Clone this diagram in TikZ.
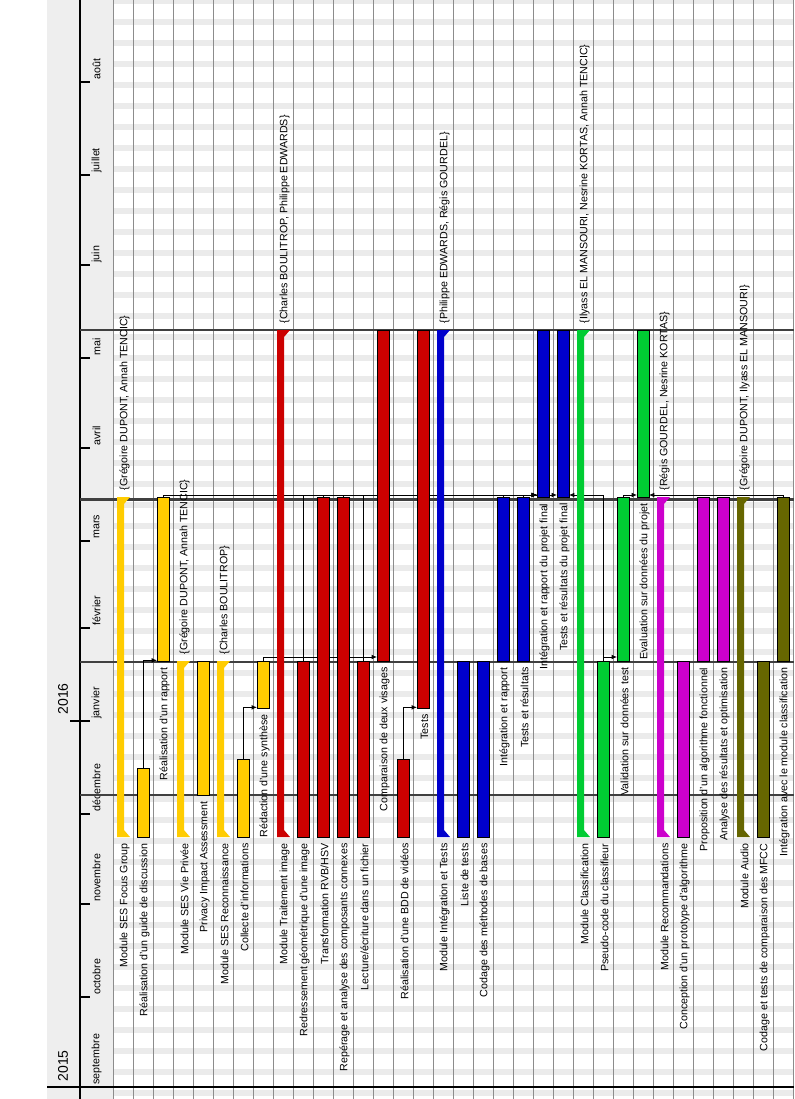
\documentclass[tikz,border=0pt]{standalone}
\usepackage{fontspec}
\setmainfont{Liberation Sans}
\usetikzlibrary{arrows.meta,fit}

\definecolor{sesyellow}{HTML}{FFCC00}
\definecolor{imgred}{HTML}{CC0000}
\definecolor{intblue}{HTML}{0000CC}
\definecolor{clsgreen}{HTML}{00CC33}
\definecolor{recmagenta}{HTML}{CC00CC}
\definecolor{audolive}{HTML}{666600}
\definecolor{panelgray}{HTML}{EEEEEE}
\definecolor{weekgray}{HTML}{EBEBEB}
\definecolor{gridgray}{HTML}{8C8C8C}
\definecolor{milegray}{HTML}{404040}

\pgfdeclarelayer{grid}
\pgfdeclarelayer{links}
\pgfsetlayers{grid,links,main}

\tikzset{
  taskbar/.style={draw=black, line width=0.5pt, fill=#1, rectangle, inner sep=0pt, outer sep=0pt},
  tasklabel/.style={rotate=90, anchor=east, inner sep=1pt, font=\fontsize{8}{9}\selectfont},
  whom/.style={rotate=90, anchor=west, inner sep=1pt, font=\fontsize{8}{9}\selectfont},
  month/.style={rotate=90, anchor=west, inner sep=1pt, font=\fontsize{8}{9}\selectfont},
  year/.style={rotate=90, anchor=west, inner sep=1pt, font=\fontsize{10.5}{12}\selectfont},
  dep/.style={draw=black, line width=0.6pt, -{Latex[length=4pt,width=3.5pt]}},
  milestone/.style={draw=milegray, line width=2.2pt},
}

\begin{document}
\begin{tikzpicture}[x=0.75pt, y=-0.75pt]
    \useasboundingbox (0,0) rectangle (794,1099);

    \begin{pgfonlayer}{grid}
    % Time scale panel
    \fill[panelgray] (47,0) rectangle (113,1099);

    % Weekends (one band per week)
    \foreach \k in {-1,...,51}
        \fill[weekgray] (113,{1069-21*\k}) rectangle (794,{1075-21*\k});

    % One column per task
    \foreach \k in {0,...,34}
        \draw[gridgray, line width=0.6pt] ({113+20*\k},0) -- ({113+20*\k},1099);

    % Axis, months and years
    \draw[black, line width=0.8pt] (80,0) -- (80,1099);
    \draw[black, line width=1pt] (47,1087) -- (794,1087);
    \foreach \y/\m in {1087/septembre, 997/octobre, 904/novembre, 814/décembre,
                       721/janvier, 628/février, 541/mars, 448/avril, 358/mai,
                       265/juin, 175/juillet, 82/août} {
        \draw[black, line width=0.8pt] (80,\y) -- (90,\y);
        \node[month] (m\y) at (96.5,\y-1) {\m};
    }
    \draw[black, line width=1.6pt] (70,1087) -- (90,1087);
    \draw[black, line width=0.8pt] (70,721) -- (90,721);
    \node[year] (y2015) at (63,1083) {2015};
    \node[year] (y2016) at (63,716) {2016};

    % Milestones
    \draw[milestone] (80,795) -- (794,795);
    \draw[milestone] (80,662) -- (794,662);
    \draw[milestone] (80,499.5) -- (794,499.5);
    \draw[milestone] (80,330) -- (794,330);
    \end{pgfonlayer}

    % Summary bars of the modules
    \foreach \cx/\yb/\yt/\c in {123/837/497/sesyellow, 183/837/661/sesyellow,
                               223/837/661/sesyellow, 283/837/330/imgred,
                               443/837/330/intblue, 583/837/330/clsgreen,
                               663/837/497/recmagenta, 743/837/497/audolive}
        \fill[\c] (\cx-6,\yb) -- (\cx+7,\yb) -- (\cx+1,\yb-7) -- (\cx+1,\yt+7)
                  -- (\cx+7,\yt) -- (\cx-6,\yt) -- cycle;

    % Tasks: SES
    \node[taskbar=sesyellow, fit={(137,768) (149,837)}] (t2) {};
    \node[taskbar=sesyellow, fit={(157,497) (169,661)}] (t3) {};
    \node[taskbar=sesyellow, fit={(197,661) (209,795)}] (t5) {};
    \node[taskbar=sesyellow, fit={(237,759) (249,837)}] (t7) {};
    \node[taskbar=sesyellow, fit={(257,661) (269,708)}] (t8) {};

    % Tasks: image
    \node[taskbar=imgred, fit={(297,661) (309,837)}] (t10) {};
    \node[taskbar=imgred, fit={(317,497) (329,837)}] (t11) {};
    \node[taskbar=imgred, fit={(337,497) (349,837)}] (t12) {};
    \node[taskbar=imgred, fit={(357,661) (369,837)}] (t13) {};
    \node[taskbar=imgred, fit={(377,330) (389,661)}] (t14) {};
    \node[taskbar=imgred, fit={(397,759) (409,837)}] (t15) {};
    \node[taskbar=imgred, fit={(417,330) (429,708)}] (t16) {};

    % Tasks: integration
    \node[taskbar=intblue, fit={(457,661) (469,837)}] (t18) {};
    \node[taskbar=intblue, fit={(477,661) (489,837)}] (t19) {};
    \node[taskbar=intblue, fit={(497,497) (509,661)}] (t20) {};
    \node[taskbar=intblue, fit={(517,497) (529,661)}] (t21) {};
    \node[taskbar=intblue, fit={(537,330) (549,497)}] (t22) {};
    \node[taskbar=intblue, fit={(557,330) (569,497)}] (t23) {};

    % Tasks: classification
    \node[taskbar=clsgreen, fit={(597,661) (609,837)}] (t25) {};
    \node[taskbar=clsgreen, fit={(617,497) (629,661)}] (t26) {};
    \node[taskbar=clsgreen, fit={(637,330) (649,497)}] (t27) {};

    % Tasks: recommendations and audio
    \node[taskbar=recmagenta, fit={(677,661) (689,837)}] (t29) {};
    \node[taskbar=recmagenta, fit={(697,497) (709,661)}] (t30) {};
    \node[taskbar=recmagenta, fit={(717,497) (729,661)}] (t31) {};
    \node[taskbar=audolive, fit={(757,661) (769,837)}] (t33) {};
    \node[taskbar=audolive, fit={(777,497) (789,661)}] (t34) {};

    % Dependencies (under the bars)
    \begin{pgfonlayer}{links}
    \draw[dep] (t2.north) |- ([yshift=0.5pt]t3.south west);
    \draw[dep] (t7.north) |- ([yshift=0.5pt]t8.south west);
    \draw[dep] (t8.north) |- ([yshift=3pt]t14.south west);
    \draw[dep] (t15.north) |- ([yshift=0.5pt]t16.south west);
    \draw[dep] (t3.north) |- ([yshift=1.5pt]t22.south west);
    \draw[dep] (t10.north) |- ([yshift=1.5pt]t22.south west);
    \draw[dep] (t11.north) |- ([yshift=1.5pt]t22.south west);
    \draw[dep] (t12.north) |- ([yshift=1.5pt]t22.south west);
    \draw[dep] (t13.north) |- ([yshift=1.5pt]t22.south west);
    \draw[dep] (t20.north) |- ([yshift=1.5pt]t22.south west);
    \draw[dep] (t21.north) |- ([yshift=1.5pt]t23.south west);
    \draw[dep] (t25.north) |- ([yshift=3pt]t26.south west);
    \draw[dep] (t25.north) |- ([yshift=1.5pt]t23.south east);
    \draw[dep] (t26.north) |- ([yshift=1.5pt]t27.south west);
    \draw[dep] (t34.north) |- ([yshift=1.5pt]t27.south east);
    \end{pgfonlayer}

    % Task names
    \node[tasklabel] (l1) at (124.5,842) {Module SES Focus Group};
    \node[tasklabel] (l2) at (144.5,842) {Réalisation d'un guide de discussion};
    \node[tasklabel] (l3) at (164.5,666) {Réalisation d'un rapport};
    \node[tasklabel] (l4) at (184.5,842) {Module SES Vie Privée};
    \node[tasklabel] (l5) at (204.5,800) {Privacy Impact Assessment};
    \node[tasklabel] (l6) at (224.5,842) {Module SES Reconnaissance};
    \node[tasklabel] (l7) at (244.5,842) {Collecte d'informations};
    \node[tasklabel] (l8) at (264.5,713) {Rédaction d'une synthèse};
    \node[tasklabel] (l9) at (284.5,842) {Module Traitement image};
    \node[tasklabel] (l10) at (304.5,842) {Redressement géométrique d'une image};
    \node[tasklabel] (l11) at (324.5,842) {Transformation RVB/HSV};
    \node[tasklabel] (l12) at (344.5,842) {Repérage et analyse des composants connexes};
    \node[tasklabel] (l13) at (364.5,842) {Lecture/écriture dans un fichier};
    \node[tasklabel] (l14) at (384.5,666) {Comparaison de deux visages};
    \node[tasklabel] (l15) at (404.5,842) {Réalisation d'une BDD de vidéos};
    \node[tasklabel] (l16) at (424.5,713) {Tests};
    \node[tasklabel] (l17) at (444.5,842) {Module Intégration et Tests};
    \node[tasklabel] (l18) at (464.5,842) {Liste de tests};
    \node[tasklabel] (l19) at (484.5,842) {Codage des méthodes de bases};
    \node[tasklabel] (l20) at (504.5,666) {Intégration et rapport};
    \node[tasklabel] (l21) at (524.5,666) {Tests et résultats};
    \node[tasklabel] (l22) at (544.5,502) {Intégration et rapport du projet final};
    \node[tasklabel] (l23) at (564.5,502) {Tests et résultats du projet final};
    \node[tasklabel] (l24) at (584.5,842) {Module Classification};
    \node[tasklabel] (l25) at (604.5,842) {Pseudo-code du classifieur};
    \node[tasklabel] (l26) at (624.5,666) {Validation sur données test};
    \node[tasklabel] (l27) at (644.5,502) {Evaluation sur données du projet};
    \node[tasklabel] (l28) at (664.5,842) {Module Recommandations};
    \node[tasklabel] (l29) at (684.5,842) {Conception d'un prototype d'algorithme};
    \node[tasklabel] (l30) at (704.5,666) {Proposition d'un algorithme fonctionnel};
    \node[tasklabel] (l31) at (724.5,666) {Analyse des résultats et optimisation};
    \node[tasklabel] (l32) at (744.5,842) {Module Audio};
    \node[tasklabel] (l33) at (764.5,842) {Codage et tests de comparaison des MFCC};
    \node[tasklabel] (l34) at (784.5,666) {Intégration avec le module classification};

    % Resources of the modules
    \node[whom] (r1) at (124.5,492) {\{Grégoire DUPONT, Annah TENCIC\}};
    \node[whom] (r4) at (184.5,656) {\{Grégoire DUPONT, Annah TENCIC\}};
    \node[whom] (r6) at (224.5,656) {\{Charles BOULITROP\}};
    \node[whom] (r9) at (284.5,325) {\{Charles BOULITROP, Philippe EDWARDS\}};
    \node[whom] (r17) at (444.5,325) {\{Philippe EDWARDS, Régis GOURDEL\}};
    \node[whom] (r24) at (584.5,325) {\{Ilyass EL MANSOURI, Nesrine KORTAS, Annah TENCIC\}};
    \node[whom] (r28) at (664.5,492) {\{Régis GOURDEL, Nesrine KORTAS\}};
    \node[whom] (r32) at (744.5,492) {\{Grégoire DUPONT, Ilyass EL MANSOURI\}};
\end{tikzpicture}
\end{document}
